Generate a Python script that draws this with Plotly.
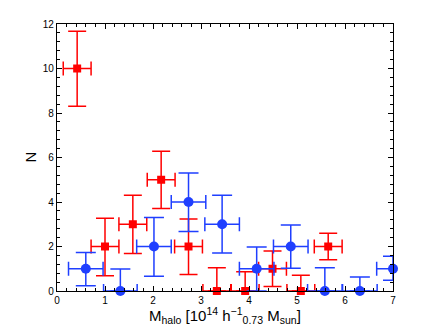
import plotly.graph_objects as go

# Red sample (squares)
red_x = [0.42, 1.0, 1.58, 2.17, 2.74, 3.33, 3.92, 4.49, 5.08, 5.65]
red_n = [10, 2, 3, 5, 2, 0, 0, 1, 0, 2]
red_err_up = [1.67, 1.27, 1.3, 1.28, 1.24, 1.05, 0.87, 0.8, 0.71, 0.6]
red_err_dn = [1.7, 1.31, 1.32, 1.29, 1.26, 0, 0, 0.8, 0, 0.59]
red_xerr = [0.29, 0.29, 0.29, 0.29, 0.29, 0.29, 0.29, 0.29, 0.29, 0.29]

# Blue sample (circles)
blue_x = [0.60, 1.32, 2.02, 2.74, 3.44, 4.16, 4.87, 5.58, 6.31, 7.0]
blue_n = [1, 0, 2, 4, 3, 1, 2, 0, 0, 1]
blue_err_up = [0.73, 0.99, 1.3, 1.3, 1.3, 0.98, 0.97, 1.04, 0.63, 0.56]
blue_err_dn = [0.76, 0, 1.34, 1.33, 1.29, 1.0, 0.98, 0, 0, 0.52]
blue_xerr = [0.36, 0.35, 0.36, 0.36, 0.36, 0.36, 0.36, 0.36, 0.36, 0.34]

RED = '#ff0000'
BLUE = '#1f3fff'
FONT = 'Liberation Sans'

fig = go.Figure()
fig.add_trace(go.Scatter(
    x=red_x, y=red_n, mode='markers', cliponaxis=False,
    marker=dict(symbol='square', size=8, color=RED),
    error_y=dict(type='data', array=red_err_up, arrayminus=red_err_dn,
                 color=RED, thickness=1.5, width=9),
    error_x=dict(type='data', array=red_xerr, color=RED, thickness=1.5, width=7),
))
fig.add_trace(go.Scatter(
    x=blue_x, y=blue_n, mode='markers', cliponaxis=False,
    marker=dict(symbol='circle', size=10, color=BLUE),
    error_y=dict(type='data', array=blue_err_up, arrayminus=blue_err_dn,
                 color=BLUE, thickness=1.5, width=10),
    error_x=dict(type='data', array=blue_xerr, color=BLUE, thickness=1.5, width=7),
))

axis_common = dict(
    showline=True, linecolor='black', linewidth=1.2, mirror='allticks',
    ticks='inside', ticklen=5, tickcolor='black', showgrid=False, zeroline=False,
    automargin=False,
    tickfont=dict(family=FONT, size=10, color='black'),
)
fig.update_xaxes(range=[0, 7], dtick=1,
                 minor=dict(dtick=0.2, ticks='inside', ticklen=3, tickcolor='black'),
                 **axis_common)
fig.update_yaxes(range=[0, 12], dtick=2,
                 minor=dict(dtick=0.4, ticks='inside', ticklen=3, tickcolor='black'),
                 **axis_common)

# axis titles
fig.add_annotation(text='M<sub>halo</sub> [10<sup>14</sup> h<sup>−1</sup><sub>0.73</sub> M<sub>sun</sub>]',
                   xref='paper', yref='paper', x=0.5, y=-0.045, yanchor='top',
                   showarrow=False, font=dict(family=FONT, size=15, color='black'))
fig.add_annotation(text='N', textangle=-90,
                   xref='paper', yref='paper', x=-0.08, y=0.5, xanchor='center',
                   showarrow=False, font=dict(family=FONT, size=15, color='black'))

# the page has an 8px body margin, so the figure is sized to fit inside it
fig.update_layout(width=428, height=320, showlegend=False,
                  margin=dict(l=49, r=43, t=16, b=37),
                  plot_bgcolor='white', paper_bgcolor='white')
fig.write_html("out.html")
